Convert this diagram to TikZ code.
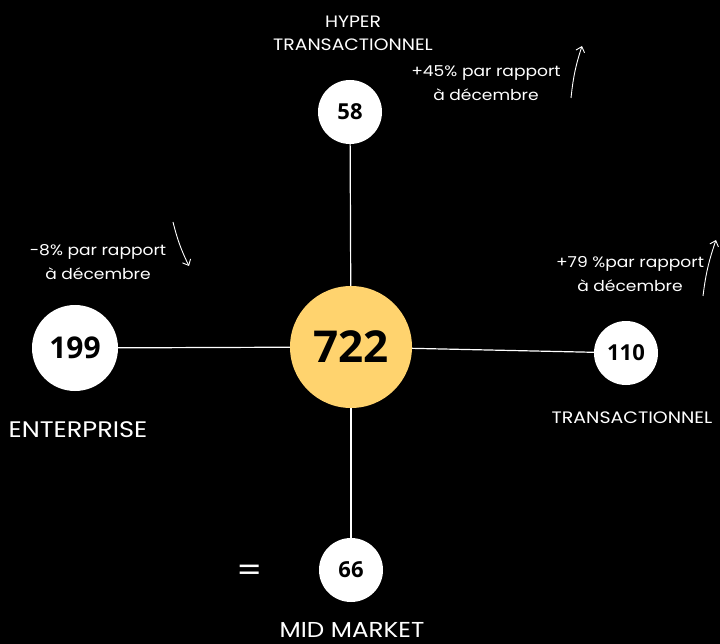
\documentclass[tikz,border=0pt]{standalone}
\usepackage{fontspec}
\setmainfont{Poppins}[FakeStretch=1.14]
\newfontfamily\numfont{Open Sans}
\usetikzlibrary{arrows.meta}
\definecolor{jaune}{HTML}{FFD36E}

\begin{document}
\begin{tikzpicture}[x=1pt,y=-1pt,
    rond/.style={circle,fill=white,text=black,inner sep=0pt,font=\numfont\bfseries},
    etiquette/.style={text=white,align=center,inner sep=0pt},
    fleche/.style={white,line width=0.9pt,-{Straight Barb[length=5pt,width=9pt]}}]
  \useasboundingbox (0,0) rectangle (720,644);
  \fill[black] (0,0) rectangle (720,644);

    % Cercles
  \node[rond,fill=jaune,minimum size=122pt,font=\numfont\bfseries\fontsize{44}{44}\selectfont] (centre) at (351,347) {722};
  \node[rond,minimum size=64pt,font=\numfont\bfseries\fontsize{22}{22}\selectfont] (haut) at (350,112) {58};
  \node[rond,minimum size=86pt,font=\numfont\bfseries\fontsize{30}{30}\selectfont] (gauche) at (75,348) {199};
  \node[rond,minimum size=64pt,font=\numfont\bfseries\fontsize{22}{22}\selectfont] (droite) at (626,353) {110};
  \node[rond,minimum size=64pt,font=\numfont\bfseries\fontsize{22}{22}\selectfont] (bas) at (351,570) {66};

    % Traits
  \draw[white,line width=1.2pt] (haut) -- (centre);
  \draw[white,line width=1.2pt] (centre) -- (bas);
  \draw[white,line width=1.2pt] (gauche) -- (centre);
  \draw[white,line width=1.2pt] (centre) -- (droite);

    % Libellés
  \node[etiquette,font=\fontsize{16.5}{23}\selectfont] (lhaut) at (353,33) {HYPER\\TRANSACTIONNEL};
  \node[etiquette,font=\fontsize{22.5}{24}\selectfont] (lgauche) at (78,430) {ENTERPRISE};
  \node[etiquette,font=\fontsize{16.6}{20}\selectfont] (ldroite) at (632,418) {TRANSACTIONNEL};
  \node[etiquette,font=\fontsize{21.6}{24}\selectfont] (lbas) at (352,630) {MID MARKET};
  \node[etiquette,font=\fontsize{32}{32}\selectfont] (egal) at (250,573) {=};

    % Variations
  \node[etiquette,font=\fontsize{15}{24}\selectfont] (vhaut) at (486,83) {+45\% par rapport\\à décembre};
  \node[etiquette,font=\fontsize{15}{24}\selectfont] (vgauche) at (98,262) {-8\% par rapport\\à décembre};
  \node[etiquette,font=\fontsize{15}{24}\selectfont] (vdroite) at (630,274) {+79 \%par rapport\\à décembre};

    % Flèches
  \coordinate (a1) at (571,98);  \coordinate (b1) at (582,46);
  \coordinate (a2) at (173,222); \coordinate (b2) at (189,266);
  \coordinate (a3) at (703,296); \coordinate (b3) at (716,240);
  \draw[fleche] (a1) to[bend left=6] (b1);
  \draw[fleche] (a2) to[bend right=6] (b2);
  \draw[fleche] (a3) to[bend left=6] (b3);
\end{tikzpicture}
\end{document}
